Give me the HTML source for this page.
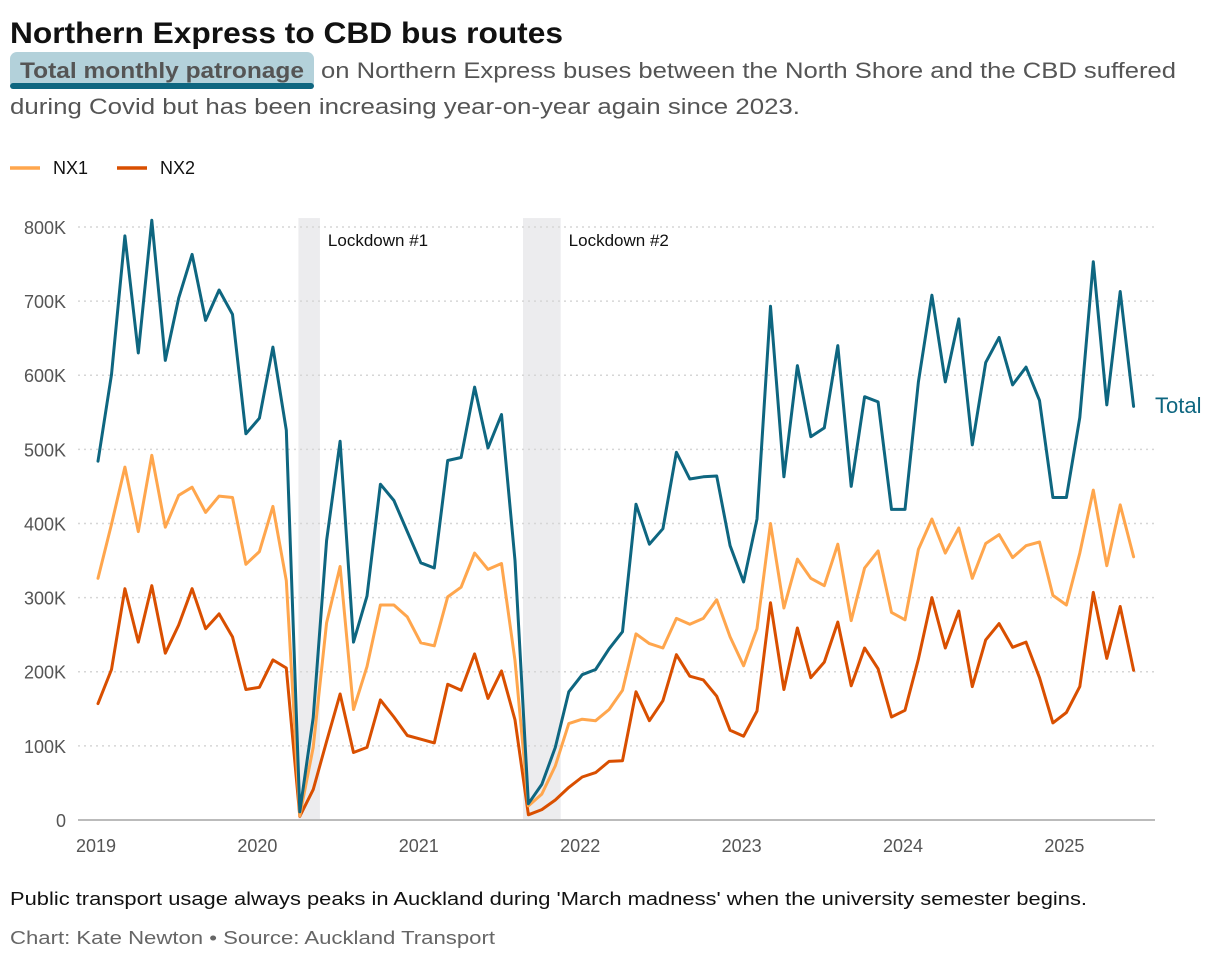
<!DOCTYPE html>
<html><head><meta charset="utf-8"><style>
html,body{margin:0;padding:0;background:#fff;}
svg{display:block;font-family:"Liberation Sans",sans-serif;}
</style></head><body>
<svg id="chart" width="1220" height="964" viewBox="0 0 1220 964">
<text x="10" y="43" font-size="30" font-weight="bold" fill="#111" textLength="553" lengthAdjust="spacingAndGlyphs">Northern Express to CBD bus routes</text>
<rect x="10" y="52" width="304" height="37" rx="7" fill="#b3d1da"/>
<rect x="10" y="83" width="304" height="6" rx="3" fill="#0e6680"/>
<text x="20" y="78" font-size="22" font-weight="bold" fill="#555" textLength="284" lengthAdjust="spacingAndGlyphs">Total monthly patronage</text>
<text x="321" y="78" font-size="22" fill="#555" textLength="855" lengthAdjust="spacingAndGlyphs">on Northern Express buses between the North Shore and the CBD suffered</text>
<text x="10" y="114" font-size="22" fill="#555" textLength="790" lengthAdjust="spacingAndGlyphs">during Covid but has been increasing year-on-year again since 2023.</text>
<g>
<line x1="10" y1="168" x2="40" y2="168" stroke="#ffa64d" stroke-width="3.5"/>
<text x="53" y="174" font-size="18" fill="#111">NX1</text>
<line x1="117" y1="168" x2="147" y2="168" stroke="#d94f00" stroke-width="3.5"/>
<text x="160" y="174" font-size="18" fill="#111">NX2</text>
</g>
<g id="plot"></g>
<text x="10" y="905" font-size="18" fill="#111" textLength="1077" lengthAdjust="spacingAndGlyphs">Public transport usage always peaks in Auckland during 'March madness' when the university semester begins.</text>
<text x="10" y="944" font-size="18" fill="#666" textLength="485" lengthAdjust="spacingAndGlyphs">Chart: Kate Newton • Source: Auckland Transport</text>
</svg>
<script>
const yTicks=[0,100,200,300,400,500,600,700,800];
const yTickLabels=["0","100K","200K","300K","400K","500K","600K","700K","800K"];
const years=[2019,2020,2021,2022,2023,2024,2025];
const lockdowns=[{start:14.9,end:16.5,label:"Lockdown #1"},{start:31.6,end:34.4,label:"Lockdown #2"}];
const total=[484,601,788,630,809,620,704,763,674,715,682,521,
542,638,526,11,138,377,511,240,302,453,431,389,
347,340,485,489,584,502,547,350,
22,48,98,173,196,203,231,254,
426,372,393,496,460,463,464,370,321,406,693,463,613,517,
529,640,450,571,564,419,419,591,708,591,676,506,617,651,587,611,566,435,435,543,753,560,713,558];
const nx1=[326,399,476,389,492,395,438,449,415,437,435,345,
362,423,323,6,98,266,342,149,207,290,290,274,
239,235,301,314,360,338,346,215,
19,35,73,130,136,134,149,175,
251,238,232,272,264,272,297,247,208,258,400,286,352,326,
316,372,269,340,363,280,270,365,406,360,394,326,373,385,354,370,375,303,290,360,445,343,425,355];
const nx2=[157,203,312,240,316,225,263,312,258,278,247,176,
179,216,205,5,41,106,170,91,98,162,139,114,
109,104,183,175,224,164,201,135,
7,14,27,44,58,64,79,80,
173,134,161,223,194,189,167,121,113,147,293,176,259,192,
213,267,181,232,204,139,148,217,300,232,282,180,243,265,233,240,192,131,145,180,307,218,288,202];

const NS="http://www.w3.org/2000/svg";
const plot=document.getElementById('plot');
const X0=98,DX=13.45,Y0=820,YK=0.7413;
function xs(i){return X0+i*DX;}
function ys(v){return Y0-v*YK;}
function mk(tag,attrs){const e=document.createElementNS(NS,tag);for(const k in attrs)e.setAttribute(k,attrs[k]);plot.appendChild(e);return e;}

lockdowns.forEach((l,k)=>{
  const r=mk('rect',{x:xs(l.start),y:ys(812),width:xs(l.end)-xs(l.start),height:ys(0)-ys(812),fill:'#ececee'});
  
  
});
yTicks.forEach((v,k)=>{
  if(v>0){
    const g=mk('line',{x1:78,x2:1155,y1:ys(v),y2:ys(v),stroke:'#d6d6d6','stroke-width':1.5,'stroke-dasharray':'2,4'});
    
    
  }
  const t=mk('text',{x:66,y:ys(v)+7,'text-anchor':'end','font-size':18,fill:'#555'});
  t.textContent=yTickLabels[k];
  
  
});
const ax=mk('line',{x1:78,x2:1155,y1:Y0,y2:Y0,stroke:'#bbb','stroke-width':2});


years.forEach((yr,k)=>{
  const t=mk('text',{x:xs(k*12)-2,y:852,'text-anchor':'middle','font-size':18,fill:'#555'});
  t.textContent=yr;
  
  
});
lockdowns.forEach((l,k)=>{
  const t=mk('text',{x:xs(l.end)+8,y:246,'font-size':17,fill:'#111'});
  t.textContent=l.label;
  
  
});
function line(arr,color,name){
  const d=arr.map((v,i)=>(i?'L':'M')+xs(i).toFixed(1)+','+ys(v).toFixed(1)).join('');
  const p=mk('path',{d:d,fill:'none',stroke:color,'stroke-width':3,'stroke-linejoin':'round','stroke-linecap':'round'});
  
  
}
line(nx2,'#d94f00','series-nx2-line');
line(nx1,'#ffa64d','series-nx1-line');
line(total,'#0e6680','series-total-line');
const tl=mk('text',{x:1155,y:413,'font-size':22,fill:'#0e6680'});
tl.textContent='Total';


</script>
</body></html>
